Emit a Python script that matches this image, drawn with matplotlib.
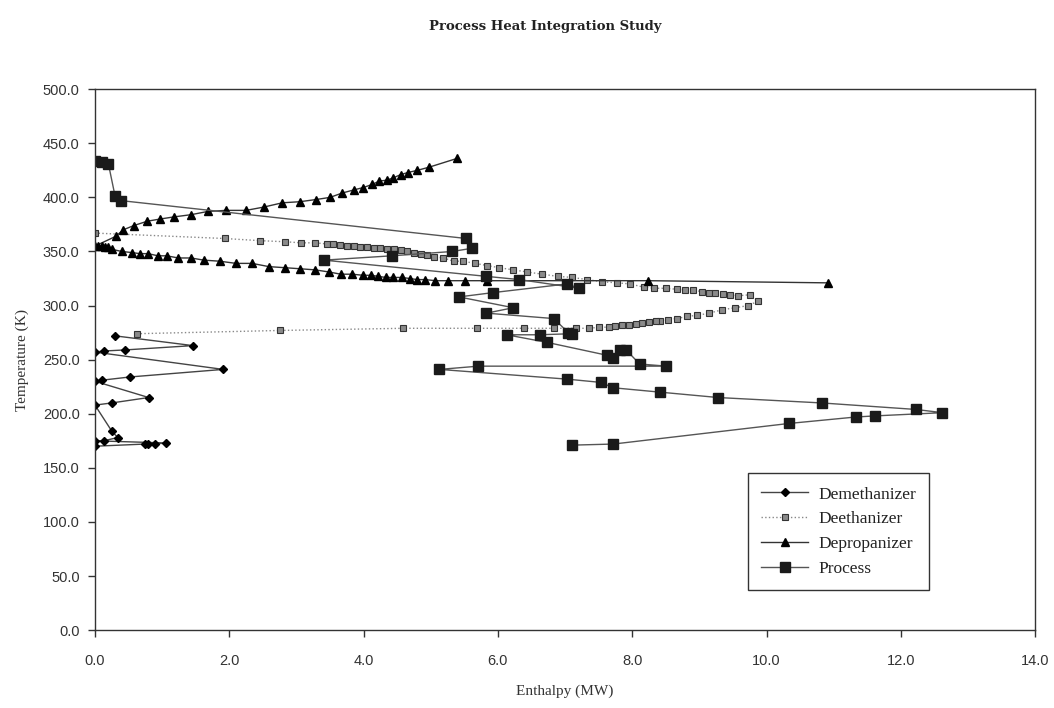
import matplotlib
matplotlib.use("Agg")
import matplotlib.pyplot as plt

# Demethanizer
demeth_h = [0.30, 1.46, 0.45, 0.13, 0.00, 1.91, 0.52, 0.10, 0.00, 0.80, 0.25, 0.00,
            0.25, 0.34, 0.13, 0.00, 1.06, 0.89, 0.79, 0.75, 0.00]
demeth_t = [272, 263, 259, 258, 257, 241, 234, 231, 230, 215, 210, 208,
            184, 178, 175, 175, 173, 172, 172, 172, 170]

# Deethanizer
deeth_h = [0.00, 1.93, 2.46, 2.83, 3.07, 3.28, 3.45, 3.55, 3.65, 3.75, 3.85, 3.95,
           4.05, 4.15, 4.25, 4.35, 4.45, 4.55, 4.65, 4.75, 4.85, 4.95, 5.05, 5.19,
           5.34, 5.48, 5.66, 5.84, 6.02, 6.23, 6.44, 6.66, 6.89, 7.11, 7.33, 7.55,
           7.78, 7.97, 8.17, 8.33, 8.51, 8.66, 8.79, 8.91, 9.04, 9.14, 9.24, 9.35,
           9.46, 9.57, 9.75, 9.87, 9.73, 9.53, 9.33, 9.15, 8.97, 8.82, 8.67, 8.54,
           8.42, 8.35, 8.25, 8.15, 8.05, 7.95, 7.85, 7.75, 7.65, 7.51, 7.36, 7.17,
           6.84, 6.39, 5.69, 4.59, 2.76, 0.63]
deeth_t = [367, 362, 360, 359, 358, 358, 357, 356.5, 356, 355.5, 355, 354.5,
           354, 353.5, 353, 352.5, 352, 351, 350, 349, 348, 346.5, 345, 344,
           341, 341, 339, 337, 335, 333, 331, 329, 327, 326, 324, 322,
           321, 320, 317, 316, 316, 315, 314, 314, 313, 312, 312, 311,
           310, 309, 310, 304, 300, 298, 296, 293, 291, 290, 288, 287,
           286, 285.5, 285, 284, 283, 282.5, 282, 281, 280, 280, 279, 279,
           279, 279, 279, 279, 277, 274]

# Depropanizer
deprop_h = [10.92, 8.23, 5.84, 5.51, 5.26, 5.07, 4.92, 4.80, 4.69, 4.57, 4.44, 4.33,
            4.22, 4.11, 3.99, 3.83, 3.66, 3.49, 3.28, 3.06, 2.83, 2.59, 2.34, 2.10,
            1.86, 1.62, 1.43, 1.24, 1.07, 0.94, 0.79, 0.67, 0.55, 0.40, 0.25, 0.20,
            0.15, 0.10, 0.05, 0.00, 0.31, 0.42, 0.58, 0.78, 0.97, 1.18, 1.43, 1.68,
            1.95, 2.25, 2.51, 2.79, 3.05, 3.29, 3.50, 3.68, 3.86, 3.99, 4.13, 4.23,
            4.35, 4.44, 4.55, 4.66, 4.80, 4.98, 5.39]
deprop_t = [321, 323, 323, 323, 323, 323, 324, 324, 325, 326, 326, 326,
            327, 328, 328, 329, 329, 331, 333, 334, 335, 336, 339, 339,
            341, 342, 344, 344, 346, 346, 348, 348, 349, 350, 352, 354,
            354, 355, 355, 355, 364, 370, 374, 378, 380, 382, 384, 387,
            388, 388, 391, 395, 396, 398, 400, 404, 407, 409, 412, 415,
            416, 418, 421, 423, 425, 428, 436]

# Process
proc_h = [0.00, 0.10, 0.20, 0.30, 0.39, 5.53, 5.62, 5.32, 4.42, 3.41, 5.83, 6.32,
          7.21, 7.03, 5.93, 5.42, 6.23, 5.83, 6.83, 7.05, 7.10, 6.62, 6.13, 6.73,
          7.63, 7.72, 7.82, 7.91, 8.11, 8.51, 5.71, 5.13, 7.03, 7.53, 7.72, 8.41,
          9.28, 10.82, 12.22, 12.62, 11.61, 11.33, 10.33, 7.72, 7.11]
proc_t = [434, 433, 431, 401, 397, 362, 353, 350, 346, 342, 327, 324,
          316, 320, 312, 308, 298, 293, 288, 275, 274, 273, 273, 266,
          254, 252, 259, 259, 246, 244, 244, 241, 232, 229, 224, 220,
          215, 210, 204, 201, 198, 197, 191, 172, 171]

fig = plt.figure(figsize=(10.54, 7.08), dpi=100)
ax = fig.add_axes([0.0901, 0.110, 0.892, 0.764])

ax.plot(demeth_h, demeth_t, color="#444444", lw=1.0, marker="D", ms=4.5,
        mfc="black", mec="black", label="Demethanizer")
ax.plot(deeth_h, deeth_t, color="#888888", lw=1.0, ls=":", marker="s", ms=5,
        mfc="#8a8a8a", mec="#333333", mew=0.8, label="Deethanizer")
ax.plot(deprop_h, deprop_t, color="#333333", lw=1.0, marker="^", ms=6,
        mfc="black", mec="black", label="Depropanizer")
ax.plot(proc_h, proc_t, color="#555555", lw=1.0, marker="s", ms=6.5,
        mfc="#1a1a1a", mec="#1a1a1a", label="Process")

ax.set_xlim(0, 14)
ax.set_ylim(0, 500)
ax.set_xticks([0, 2, 4, 6, 8, 10, 12, 14])
ax.set_xticklabels(["0.0", "2.0", "4.0", "6.0", "8.0", "10.0", "12.0", "14.0"])
ax.set_yticks(range(0, 501, 50))
ax.set_yticklabels(["%.1f" % v for v in range(0, 501, 50)])
for lab in ax.get_xticklabels() + ax.get_yticklabels():
    lab.set_fontfamily("Liberation Sans")
    lab.set_fontsize(10.5)
    lab.set_color("#333333")
ax.tick_params(direction="out", length=5, width=1, color="#333333", pad=6)
ax.tick_params(axis="x", pad=12)
for sp in ax.spines.values():
    sp.set_color("#333333")
    sp.set_linewidth(1.0)

ax.set_xlabel("Enthalpy (MW)", fontfamily="Liberation Serif", fontsize=11,
              color="#333333", labelpad=12)
ax.set_ylabel("Temperature (K)", fontfamily="Liberation Serif", fontsize=11,
              color="#333333", labelpad=10)
fig.text(0.517, 0.962, "Process Heat Integration Study", ha="center", va="center",
         fontfamily="DejaVu Serif", fontweight="bold", fontsize=9.5, color="#222222")

leg = ax.legend(loc="lower left", bbox_to_anchor=(0.695, 0.074), fancybox=False,
                framealpha=1, edgecolor="#333333", borderpad=0.75, labelspacing=0.5,
                handlelength=2.7, handletextpad=0.6, borderaxespad=0,
                prop={"family": "Liberation Serif", "size": 12.5})
leg.get_frame().set_linewidth(1.0)
for txt in leg.get_texts():
    txt.set_color("#222222")

fig.savefig("out.png", dpi=100)
